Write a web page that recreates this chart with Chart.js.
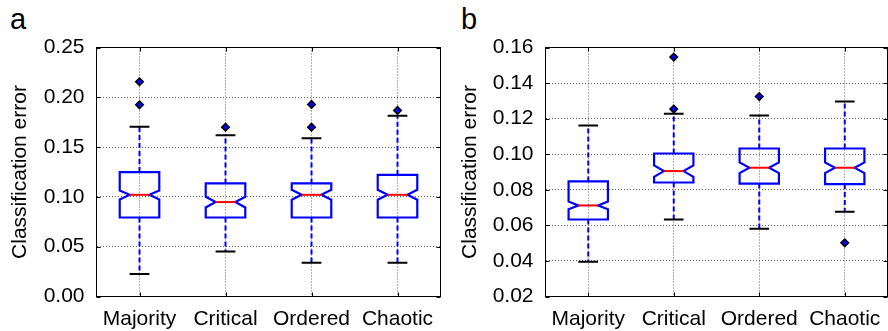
<!DOCTYPE html>
<html>
<head>
<meta charset="utf-8">
<script src="https://cdn.jsdelivr.net/npm/chart.js@4"></script>
<style>
  html, body { margin: 0; padding: 0; background: #fff; overflow: hidden; width: 888px; height: 331px; }
  .wrap { position: absolute; top: 0; height: 331px; }
  .letter { position: absolute; font: 29px 'Liberation Sans', Arial, sans-serif; line-height: 29px; color: #000; }
</style>
</head>
<body>
<div class="letter" style="left:10px; top:5px">a</div>
<div class="letter" style="left:461px; top:5px">b</div>
<div class="wrap" style="left:0; width:446px"><canvas id="chartA"></canvas></div>
<div class="wrap" style="left:450px; width:443px"><canvas id="chartB"></canvas></div>
<script>
// Categorías comunes
const categories = ['Majority', 'Critical', 'Ordered', 'Chaotic'];

// Panel a
const aLower = [0.0225, 0.0452, 0.0338, 0.0338];
const aQ1 = [0.0793, 0.0793, 0.0793, 0.0793];
const aMedian = [0.1021, 0.0948, 0.1021, 0.1021];
const aQ3 = [0.1249, 0.1135, 0.1135, 0.1222];
const aUpper = [0.1704, 0.1620, 0.1590, 0.1815];
const aNotchLow = [0.0974, 0.0894, 0.0971, 0.0971];
const aNotchHigh = [0.1065, 0.1001, 0.1071, 0.1071];
const aOutliers = [[0.2156, 0.1925], [0.1700], [0.1928, 0.1700], [0.1868]];
const aTicks = { min: 0, max: 0.25, step: 0.05 };

// Panel b
const bLower = [0.0395, 0.0633, 0.0581, 0.0677];
const bQ1 = [0.0633, 0.0841, 0.0835, 0.0832];
const bMedian = [0.0712, 0.0905, 0.0924, 0.0924];
const bQ3 = [0.0847, 0.1004, 0.1032, 0.1032];
const bUpper = [0.1161, 0.1227, 0.1218, 0.1297];
const bNotchLow = [0.0691, 0.0873, 0.0894, 0.0894];
const bNotchHigh = [0.0734, 0.0937, 0.0954, 0.0954];
const bOutliers = [[], [0.1546, 0.1254], [0.1324], [0.0502]];
const bTicks = { min: 0.02, max: 0.16, step: 0.02 };

const FONT = "'Liberation Sans', Arial, sans-serif";

// Plugin que dibuja las cajas con muesca, bigotes, marco y marcas internas
function makeBoxPlugin(s) {
    return {
        id: 'notchBox',
        beforeDatasetsDraw(chart) {
            const { ctx, chartArea, scales: { x, y } } = chart;
            const catW = chartArea.width / categories.length;
            const half = catW * 0.23;
            const inner = half / 2;
            ctx.save();
            s.median.forEach((m, i) => {
                const cx = x.getPixelForValue(i);
                const yL = y.getPixelForValue(s.lower[i]);
                const y1 = y.getPixelForValue(s.q1[i]);
                const yM = y.getPixelForValue(m);
                const y3 = y.getPixelForValue(s.q3[i]);
                const yU = y.getPixelForValue(s.upper[i]);
                const nL = y.getPixelForValue(s.notchLow[i]);
                const nH = y.getPixelForValue(s.notchHigh[i]);

                // bigotes
                ctx.strokeStyle = '#0000ff';
                ctx.lineWidth = 2;
                ctx.setLineDash([5, 3]);
                ctx.beginPath();
                ctx.moveTo(cx, y3); ctx.lineTo(cx, yU);
                ctx.moveTo(cx, y1); ctx.lineTo(cx, yL);
                ctx.stroke();
                ctx.setLineDash([]);

                // topes
                ctx.strokeStyle = '#000';
                ctx.beginPath();
                ctx.moveTo(cx - inner, yU); ctx.lineTo(cx + inner, yU);
                ctx.moveTo(cx - inner, yL); ctx.lineTo(cx + inner, yL);
                ctx.stroke();

                // caja con muesca
                ctx.strokeStyle = '#0000ff';
                ctx.lineWidth = 2.2;
                ctx.beginPath();
                ctx.moveTo(cx - half, y3);
                ctx.lineTo(cx + half, y3);
                ctx.lineTo(cx + half, nH);
                ctx.lineTo(cx + inner, yM);
                ctx.lineTo(cx + half, nL);
                ctx.lineTo(cx + half, y1);
                ctx.lineTo(cx - half, y1);
                ctx.lineTo(cx - half, nL);
                ctx.lineTo(cx - inner, yM);
                ctx.lineTo(cx - half, nH);
                ctx.closePath();
                ctx.stroke();

                // mediana
                ctx.strokeStyle = '#ff0000';
                ctx.lineWidth = 2;
                ctx.beginPath();
                ctx.moveTo(cx - inner, yM); ctx.lineTo(cx + inner, yM);
                ctx.stroke();
            });
            ctx.restore();
        },
        afterDraw(chart) {
            const { ctx, chartArea: a, scales: { x, y } } = chart;
            ctx.save();
            ctx.strokeStyle = '#000';
            ctx.lineWidth = 1;
            ctx.strokeRect(a.left, a.top, a.right - a.left, a.bottom - a.top);
            ctx.beginPath();
            y.ticks.forEach((t, i) => {
                const py = Math.round(y.getPixelForTick(i)) + 0.5;
                ctx.moveTo(a.left, py); ctx.lineTo(a.left + 4, py);
                ctx.moveTo(a.right, py); ctx.lineTo(a.right - 4, py);
            });
            x.ticks.forEach((t, i) => {
                const px = Math.round(x.getPixelForTick(i)) + 0.5;
                ctx.moveTo(px, a.bottom); ctx.lineTo(px, a.bottom - 4);
                ctx.moveTo(px, a.top); ctx.lineTo(px, a.top + 4);
            });
            ctx.stroke();
            ctx.restore();
        }
    };
}

function createBoxChart(id, s, outliers, t, yWidth, padRight) {
    const points = [];
    outliers.forEach((list, i) => list.forEach(v => points.push({ x: categories[i], y: v })));
    const ctx = document.getElementById(id).getContext('2d');
    return new Chart(ctx, {
        type: 'scatter',
        data: {
            labels: categories,
            datasets: [{
                label: 'Outliers',
                data: points,
                pointStyle: 'rectRot',
                pointRadius: 3.8,
                backgroundColor: '#0000ff',
                borderColor: '#000',
                borderWidth: 1.5
            }]
        },
        options: {
            responsive: true,
            maintainAspectRatio: false,
            animation: false,
            layout: { padding: { top: 47.5, right: padRight, bottom: 0, left: 0 } },
            plugins: { legend: { display: false }, tooltip: { enabled: false } },
            scales: {
                x: {
                    type: 'category',
                    labels: categories,
                    offset: true,
                    grid: { offset: false, color: '#666', lineWidth: 1, drawTicks: false },
                    border: { display: false, dash: [1, 2] },
                    ticks: { color: '#000', font: { family: FONT, size: 21 }, padding: 10, maxRotation: 0 },
                    afterFit(scale) { scale.height = 34.5; }
                },
                y: {
                    min: t.min,
                    max: t.max,
                    grid: { color: '#666', lineWidth: 1, drawTicks: false },
                    border: { display: false, dash: [1, 2] },
                    ticks: {
                        stepSize: t.step,
                        color: '#000',
                        font: { family: FONT, size: 21 },
                        padding: 12,
                        callback: v => v.toFixed(2)
                    },
                    title: {
                        display: true,
                        text: 'Classification error',
                        color: '#000',
                        font: { family: FONT, size: 21 },
                        padding: { top: 7.4, bottom: 0 }
                    },
                    afterFit(scale) { scale.width = yWidth; }
                }
            }
        },
        plugins: [makeBoxPlugin(s)]
    });
}

createBoxChart('chartA', {
    lower: aLower, q1: aQ1, median: aMedian, q3: aQ3, upper: aUpper,
    notchLow: aNotchLow, notchHigh: aNotchHigh
}, aOutliers, aTicks, 96.5, 1.5);

createBoxChart('chartB', {
    lower: bLower, q1: bQ1, median: bMedian, q3: bQ3, upper: bUpper,
    notchLow: bNotchLow, notchHigh: bNotchHigh
}, bOutliers, bTicks, 95.5, 0);
</script>
</body>
</html>
